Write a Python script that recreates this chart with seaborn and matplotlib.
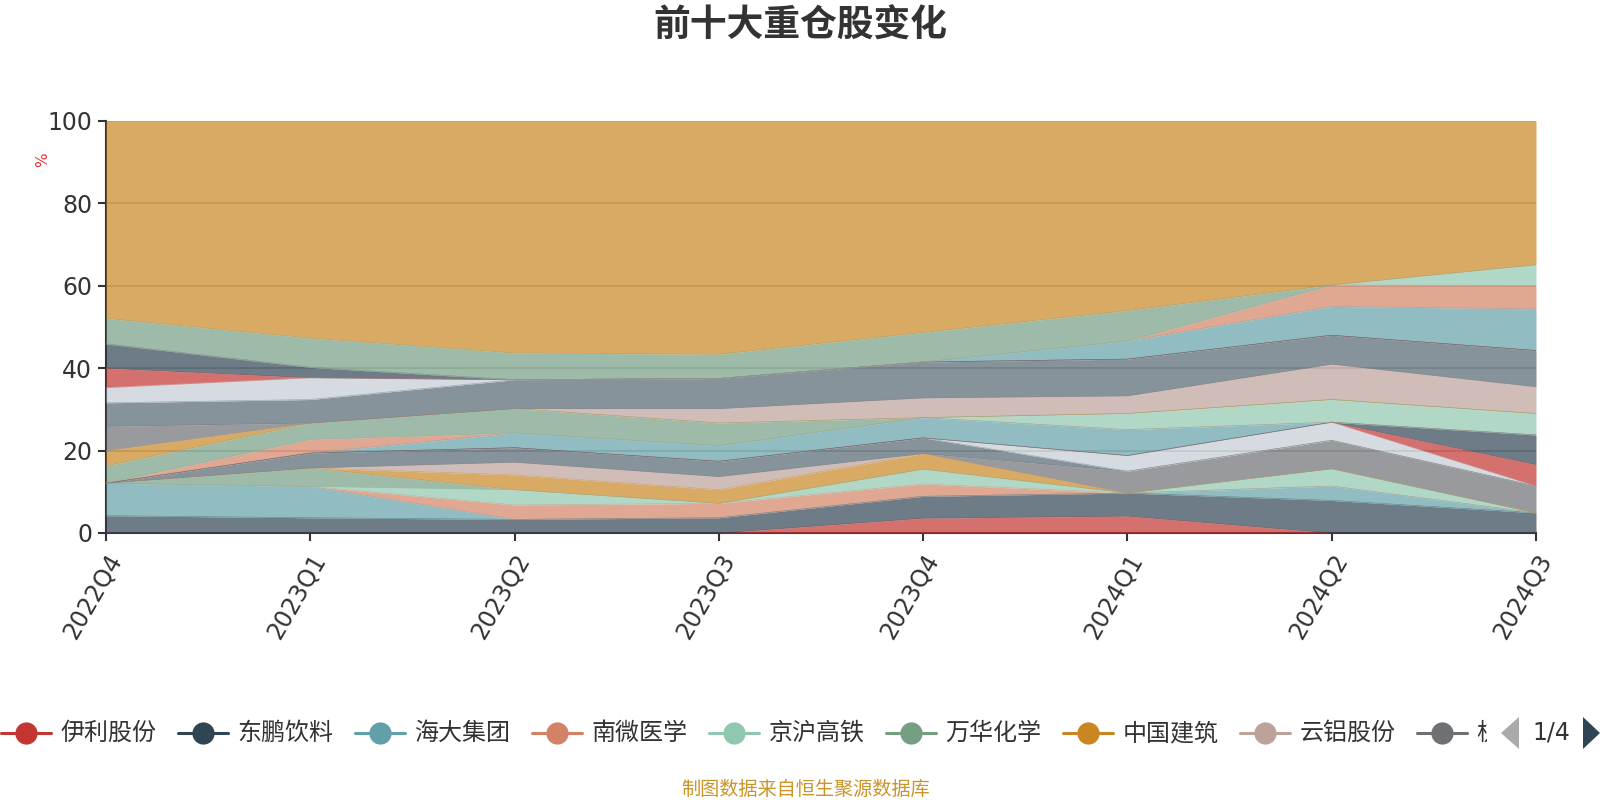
import numpy as np
import pandas as pd
import matplotlib
matplotlib.use("Agg")
import matplotlib.pyplot as plt
import seaborn as sns
from matplotlib.lines import Line2D
from matplotlib.patches import Polygon
from matplotlib.transforms import Bbox

# ---------------- data ----------------
quarters = ["2022Q4", "2023Q1", "2023Q2", "2023Q3", "2023Q4", "2024Q1", "2024Q2", "2024Q3"]

names = ["伊利股份", "东鹏饮料", "海大集团", "南微医学", "京沪高铁", "万华化学", "中国建筑", "云铝股份",
         "杭州银行", "持仓股10", "持仓股11", "持仓股12", "持仓股13", "持仓股14", "持仓股15",
         "持仓股16", "持仓股17", "持仓股18", "持仓股19", "持仓股20", "持仓股21", "持仓股22",
         "持仓股23", "持仓股24", "持仓股25", "持仓股26", "持仓股27", "持仓股28", "其他"]

s00 = [0, 0, 0, 0, 3.6, 4.1, 0, 0]
s01 = [4.2, 3.7, 3.3, 3.7, 5.3, 5.6, 7.9, 4.9]
s02 = [7.9, 7.6, 0, 0, 0, 0, 3.5, 0]
s03 = [0, 0, 3.5, 3.5, 3.0, 0, 0, 0]
s04 = [0, 0, 3.7, 0, 3.6, 0, 4.2, 0]
s05 = [0, 4.5, 0, 0, 0, 0, 0, 0]
s06 = [0, 0, 3.6, 3.3, 3.8, 0, 0, 0]
s07 = [0, 0, 3.1, 3.2, 0, 0, 0, 0]
s08 = [0, 0, 0, 0, 0, 5.3, 6.9, 6.5]
s09 = [0, 3.6, 3.5, 3.7, 3.8, 0, 0, 0]
s10 = [0, 0, 0, 0, 0, 3.8, 4.4, 0]
s11 = [0, 0, 0, 0, 0, 0, 0, 5.2]
s12 = [0, 0, 0, 0, 0, 0, 0, 7.2]
s13 = [0, 0, 3.6, 3.8, 4.9, 6.3, 0, 0]
s14 = [0, 3.3, 0, 0, 0, 0, 0, 0]
s15 = [0, 0, 0, 0, 0, 3.9, 5.5, 5.2]
s16 = [4.2, 4.0, 5.9, 5.5, 0, 0, 0, 0]
s17 = [3.7, 0, 0, 0, 0, 0, 0, 0]
s18 = [0, 0, 0, 3.5, 4.8, 4.3, 8.6, 6.5]
s19 = [5.9, 0, 0, 0, 0, 0, 0, 0]
s20 = [5.7, 5.7, 7.0, 7.3, 8.7, 8.9, 7.0, 8.8]
s21 = [3.7, 5.3, 0, 0, 0, 0, 0, 0]
s22 = [4.7, 0, 0, 0, 0, 0, 0, 0]
s23 = [5.9, 2.5, 0, 0, 0, 0, 0, 0]
s24 = [0, 0, 0, 0, 0, 4.4, 7.0, 10.1]
s25 = [0, 0, 0, 0, 0, 0, 5.2, 5.7]
s26 = [0, 0, 0, 0, 0, 0, 0, 5.0]
s27 = [6.2, 7.1, 6.5, 5.9, 7.2, 7.4, 0, 0]
s28 = [47.9, 52.7, 56.3, 56.6, 51.3, 46.0, 39.8, 34.9]

holdings = [s00, s01, s02, s03, s04, s05, s06, s07, s08, s09, s10, s11, s12, s13, s14,
            s15, s16, s17, s18, s19, s20, s21, s22, s23, s24, s25, s26, s27, s28]

palette = ["#c23531", "#2f4554", "#61a0a8", "#d48265", "#91c7ae", "#749f83",
           "#ca8622", "#bda29a", "#6e7074", "#546570", "#c4ccd3"]

# ---------------- style ----------------
sns.set_theme(style="white")
plt.rcParams["font.family"] = ["DejaVu Sans", "Noto Sans CJK SC"]

W, H = 1600, 800
fig = plt.figure(figsize=(16, 8), dpi=100)
fig.patch.set_facecolor("white")
ax = fig.add_axes([106 / W, 1 - 533 / H, (1536 - 106) / W, (533 - 121) / H])
ax.set_facecolor("white")

colors = [palette[i % len(palette)] for i in range(len(holdings))]
x = np.arange(len(quarters))
df = pd.DataFrame({n: v for n, v in zip(names, holdings)}, index=x)

ax.stackplot(x, *[df[n].values for n in names], colors=colors, alpha=0.7,
             linewidth=0, zorder=2)

cum = df.cumsum(axis=1)
for i, n in enumerate(names):
    sns.lineplot(x=x, y=cum[n].values, color=colors[i], lw=0.45, alpha=0.45,
                 ax=ax, legend=False, zorder=3)

ax.set_xlim(0, len(quarters) - 1)
ax.set_ylim(0, 100)
ax.set_yticks([0, 20, 40, 60, 80, 100])
ax.set_xticks(x)
ax.set_xticklabels(quarters, rotation=60, ha="right", rotation_mode="anchor")
ax.tick_params(axis="y", which="both", direction="out", length=6, width=1.5,
               colors="#333333", labelsize=17, pad=4, left=True)
ax.tick_params(axis="x", which="both", direction="out", length=6, width=1.5,
               colors="#333333", labelsize=17, pad=6, bottom=True)
ax.set_xlabel("")
ax.set_ylabel("")

ax.yaxis.grid(True, color="#bdbdbd", lw=1.2, zorder=0.5)
ax.xaxis.grid(False)
ax.set_axisbelow(True)
for s in ["top", "right"]:
    ax.spines[s].set_visible(False)
for s in ["left", "bottom"]:
    ax.spines[s].set_visible(True)
    ax.spines[s].set_color("#333333")
    ax.spines[s].set_linewidth(1.5)
    ax.spines[s].set_zorder(1)

# unit label
fig.text(43 / W, 1 - 160 / H, "%", color="#f03030", fontsize=11, rotation=90,
         ha="center", va="center")

# title
fig.text(0.5, 1 - 26 / H, "前十大重仓股变化", fontsize=26.5, fontweight="bold",
         color="#333333", ha="center", va="center",
         family=["Noto Sans CJK SC", "DejaVu Sans"])

# ---------------- legend (page 1 of 4) ----------------
ly = 1 - 733 / H
clip = Bbox([[0, 0], [1487, H]])
for i in range(9):
    cx = 25.5 + 177 * i
    ln = Line2D([(cx - 25) / W, (cx + 25) / W], [ly, ly], transform=fig.transFigure,
                color=colors[i], lw=2.2)
    fig.add_artist(ln)
    mk = Line2D([cx / W], [ly], transform=fig.transFigure, marker="o", markersize=16,
                color=colors[i], markeredgewidth=0, linestyle="none")
    fig.add_artist(mk)
    label = names[i] if i < 8 else names[i][0]   # last item is cut by the pager
    t = fig.text((cx + 35) / W, ly, label, fontsize=17.3, color="#333333",
                 ha="left", va="center", family=["Noto Sans CJK SC", "DejaVu Sans"])
    t.set_clip_box(clip)
    t.set_clip_on(True)

yc = 800 - 733
tri_l = Polygon([[1501 / W, yc / H], [1519 / W, (yc + 16) / H], [1519 / W, (yc - 16) / H]],
                closed=True, transform=fig.transFigure, color="#aaaaaa", lw=0)
tri_r = Polygon([[1583 / W, (yc + 16) / H], [1583 / W, (yc - 16) / H], [1600 / W, yc / H]],
                closed=True, transform=fig.transFigure, color="#2f4554", lw=0)
fig.add_artist(tri_l)
fig.add_artist(tri_r)
fig.text(1551 / W, yc / H, "1/4", fontsize=17, color="#333333", ha="center", va="center")

# footer
fig.text(806 / W, 1 - 789 / H, "制图数据来自恒生聚源数据库", fontsize=13.8, color="#c9952b",
         ha="center", va="center", family=["Noto Sans CJK SC", "DejaVu Sans"])

fig.savefig("out.png", dpi=100, facecolor="white")
